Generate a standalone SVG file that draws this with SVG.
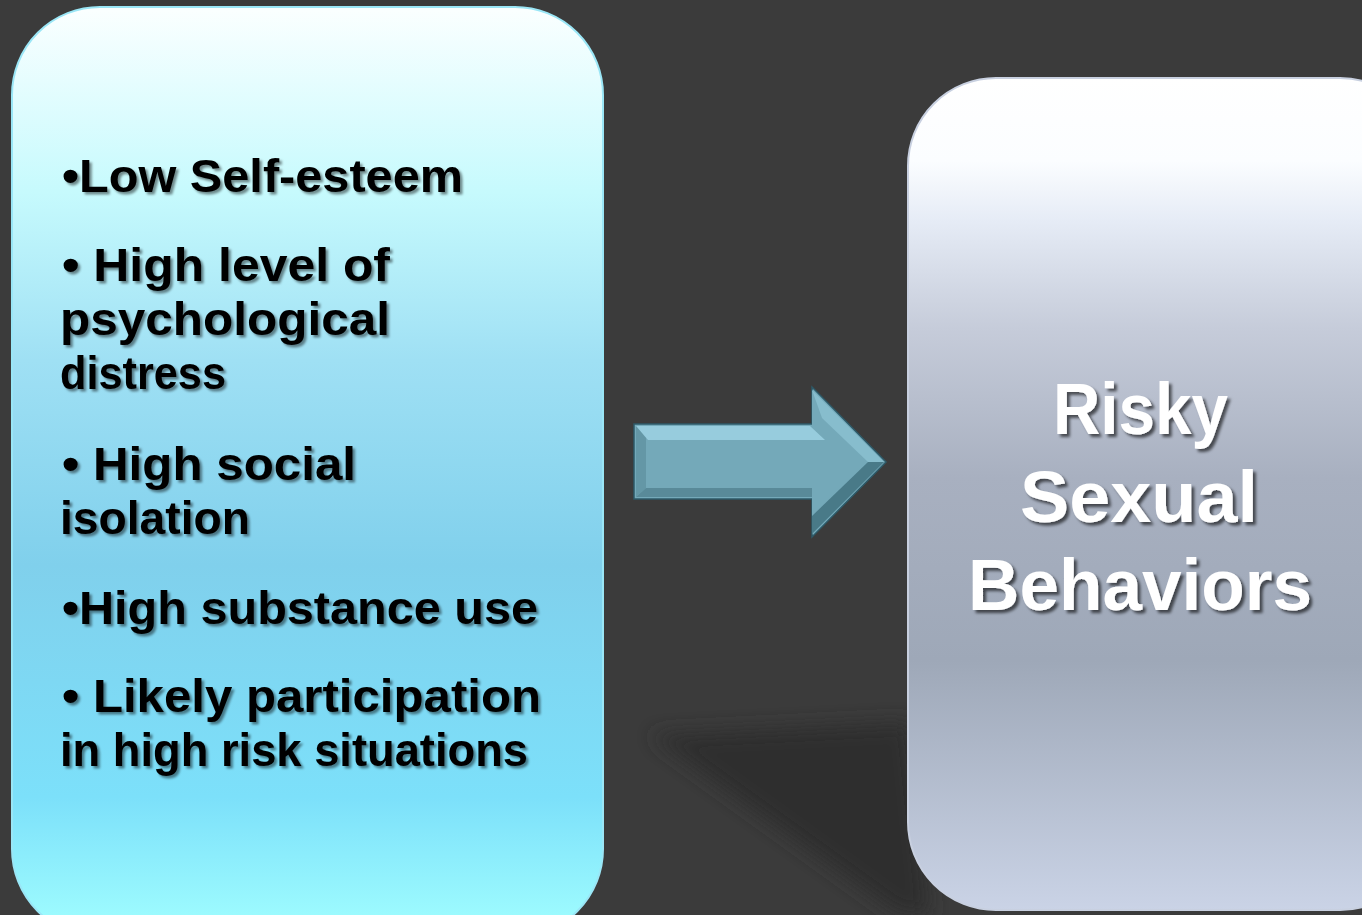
<svg xmlns="http://www.w3.org/2000/svg" width="1362" height="915" viewBox="0 0 1362 915">
<style>
.lt{font-family:"Liberation Sans",Arial,sans-serif;font-weight:bold;font-size:47px;fill:#000;}
.rt{font-family:"Liberation Sans",Arial,sans-serif;font-weight:bold;font-size:72px;fill:#fff;}
</style>
<defs>
<linearGradient id="gl" x1="0" y1="0" x2="0" y2="1">
<stop offset="0" stop-color="#fbffff"/>
<stop offset="0.2" stop-color="#c6fafd"/>
<stop offset="0.38" stop-color="#9fe0f4"/>
<stop offset="0.6" stop-color="#80d0ec"/>
<stop offset="0.85" stop-color="#7ce0fa"/>
<stop offset="1" stop-color="#a2ffff"/>
</linearGradient>
<linearGradient id="gr" x1="0" y1="0" x2="0" y2="1">
<stop offset="0" stop-color="#ffffff"/>
<stop offset="0.1" stop-color="#fbfdff"/>
<stop offset="0.17" stop-color="#e6ecf6"/>
<stop offset="0.3" stop-color="#c6ccda"/>
<stop offset="0.48" stop-color="#a8b0c0"/>
<stop offset="0.7" stop-color="#9ea8b8"/>
<stop offset="1" stop-color="#cad3e6"/>
</linearGradient>
<filter id="blur" x="-20%" y="-20%" width="140%" height="140%"><feGaussianBlur stdDeviation="10"/></filter>
<filter id="ts" x="-5%" y="-20%" width="110%" height="150%"><feDropShadow dx="2.5" dy="2.5" stdDeviation="1.2" flood-color="#000" flood-opacity="0.45"/></filter>
<filter id="ts2" x="-5%" y="-20%" width="110%" height="150%"><feDropShadow dx="3" dy="3" stdDeviation="1.5" flood-color="#000" flood-opacity="0.6"/></filter>
</defs>
<rect width="1362" height="915" fill="#3b3b3b"/>
<polygon points="650,735 910,722 930,915 900,915" fill="#2f2f2f" filter="url(#blur)"/>

<g id="left-node">
<rect x="12" y="7" width="591" height="930" rx="88" ry="88" fill="url(#gl)" stroke="#9ae6f6" stroke-width="2"/>
<g filter="url(#ts)">
<text class="lt" x="62" y="192" textLength="401" lengthAdjust="spacingAndGlyphs">•Low Self-esteem</text>
<text class="lt" x="62" y="281" textLength="328" lengthAdjust="spacingAndGlyphs">• High level of</text>
<text class="lt" x="60" y="335" textLength="330" lengthAdjust="spacingAndGlyphs">psychological</text>
<text class="lt" x="60" y="389" textLength="166" lengthAdjust="spacingAndGlyphs">distress</text>
<text class="lt" x="62" y="480" textLength="294" lengthAdjust="spacingAndGlyphs">• High social</text>
<text class="lt" x="60" y="534" textLength="190" lengthAdjust="spacingAndGlyphs">isolation</text>
<text class="lt" x="62" y="624" textLength="476" lengthAdjust="spacingAndGlyphs">•High substance use</text>
<text class="lt" x="62" y="712" textLength="479" lengthAdjust="spacingAndGlyphs">• Likely participation</text>
<text class="lt" x="60" y="766" textLength="468" lengthAdjust="spacingAndGlyphs">in high risk situations</text>
</g>
</g>

<g id="right-node">
<rect x="908" y="78" width="520" height="832" rx="88" ry="88" fill="url(#gr)" stroke="#c8d0e0" stroke-width="2"/>
<g filter="url(#ts2)">
<text class="rt" x="1053" y="434" textLength="175" lengthAdjust="spacingAndGlyphs">Risky</text>
<text class="rt" x="1020" y="522" textLength="238" lengthAdjust="spacingAndGlyphs">Sexual</text>
<text class="rt" x="968" y="610" textLength="344" lengthAdjust="spacingAndGlyphs">Behaviors</text>
</g>
</g>

<g id="connectors">
<polygon points="634,424 812,424 812,387 886,462 812,537 812,499 634,499" fill="#74a9b9" stroke="#2e5a68" stroke-width="1.5"/>
<polygon points="636,426 812,426 812,390 884,462 812,534 812,497 636,497" fill="#74a9b9"/>
<polygon points="636,426 810,426 825,440 648,440" fill="#a6dcec" opacity="0.7"/>
<polygon points="812,390 884,462 868,462 822,418" fill="#8cc2d2" opacity="0.8"/>
<polygon points="884,462 812,534 812,516 868,462" fill="#3e6e7c" opacity="0.8"/>
<polygon points="636,497 812,497 812,488 646,488" fill="#4e7e8c" opacity="0.7"/>
<polygon points="636,426 646,438 646,488 636,497" fill="#5a8c9a" opacity="0.6"/>
</g>
</svg>
